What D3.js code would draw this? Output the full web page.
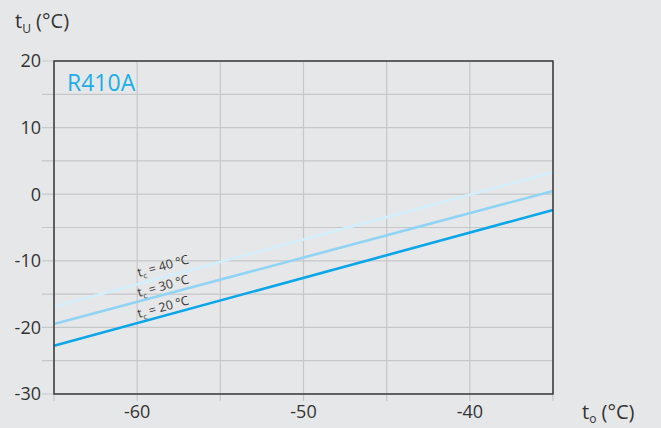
<!DOCTYPE html>
<html><head><meta charset="utf-8">
<script src="https://cdn.jsdelivr.net/npm/d3@7"></script>
<style>
html,body{margin:0;padding:0;background:#e6e7e8;}
svg{display:block;font-family:"Open Sans",sans-serif;}
</style></head>
<body><svg id="c" width="661" height="428"></svg>
<script>
const xDomain = [-65, -35];
const yDomain = [-30, 20];
const xTicks = [-60, -50, -40];
const yTicks = [-30, -20, -10, 0, 10, 20];
const xGrid = [-65, -60, -55, -50, -45, -40, -35];
const yGrid = [-30, -25, -20, -15, -10, -5, 0, 5, 10, 15, 20];
const seriesNames = ["tc20", "tc30", "tc40"];
const seriesLabels = ["20", "30", "40"];
const seriesX = [-65, -35];
const tc20 = [-22.75, -2.37];
const tc30 = [-19.5, 0.48];
const tc40 = [-16.9, 3.3];
const colors = ["#0aa6e9", "#8fd4f4", "#d4effc"];

const svg = d3.select("#c");
const L = 54, R = 553, T = 61, B = 394;
const x = d3.scaleLinear().domain(xDomain).range([L, R]);
const y = d3.scaleLinear().domain(yDomain).range([B, T]);

// grid
svg.append("g").selectAll("line").data(yGrid).join("line")
  .attr("x1", L - 12).attr("x2", R).attr("y1", d => y(d)).attr("y2", d => y(d))
  .attr("stroke", "#c6c7c8").attr("stroke-width", 1.2);
svg.append("g").selectAll("line").data(xGrid).join("line")
  .attr("y1", T).attr("y2", B + 7).attr("x1", d => x(d)).attr("x2", d => x(d))
  .attr("stroke", "#c6c7c8").attr("stroke-width", 1.2);

// series lines
const all = [tc20, tc30, tc40];
const line = d3.line().x((d, i) => x(seriesX[i])).y(d => y(d));
[2, 1, 0].forEach(k => {
  svg.append("path").datum(all[k]).attr("d", line)
    .attr("fill", "none").attr("stroke", colors[k]).attr("stroke-width", 2.6);
});

// frame
svg.append("path")
  .attr("d", `M${L},${T}H${R}V${B}H${L}Z`)
  .attr("fill", "none").attr("stroke", "#3a3a3a").attr("stroke-width", 1.5);

// y tick labels
svg.append("g").selectAll("text").data(yTicks).join("text")
  .attr("x", 41).attr("y", d => y(d)).attr("dy", "0.35em")
  .attr("text-anchor", "end").attr("font-size", 18).attr("fill", "#333")
  .text(d => d);
// x tick labels
svg.append("g").selectAll("text").data(xTicks).join("text")
  .attr("x", d => x(d)).attr("y", 418)
  .attr("text-anchor", "middle").attr("font-size", 18).attr("fill", "#333")
  .text(d => d);

// axis titles
const yt = svg.append("text").attr("x", 15).attr("y", 28).attr("font-size", 20).attr("fill", "#333");
yt.append("tspan").text("t");
yt.append("tspan").attr("font-size", 12).attr("dy", 5).text("U");
yt.append("tspan").attr("dy", -5).text(" (°C)");
const xt = svg.append("text").attr("x", 582).attr("y", 419).attr("font-size", 20).attr("fill", "#333");
xt.append("tspan").text("t");
xt.append("tspan").attr("font-size", 12).attr("dy", 4).text("o");
xt.append("tspan").attr("dy", -4).text(" (°C)");

// refrigerant label
svg.append("text").attr("x", 67).attr("y", 91).attr("font-size", 23)
  .attr("fill", "#1aaeea").text("R410A");

// series labels, rotated along lines
const labX = -59.9;
const ang = -Math.atan((y(tc20[0]) - y(tc20[1])) / (x(seriesX[1]) - x(seriesX[0]))) * 180 / Math.PI;
const labY = [318, 297, 277];
[0, 1, 2].forEach(k => {
  const t = svg.append("text")
    .attr("transform", `translate(${x(labX)},${labY[k]}) rotate(${ang})`)
    .attr("font-size", 12.5).attr("fill", "#333");
  t.append("tspan").text("t");
  t.append("tspan").attr("font-size", 8).attr("dy", 3).text("c");
  t.append("tspan").attr("dy", -3).text(" = " + seriesLabels[k] + " °C");
});
</script></body></html>
